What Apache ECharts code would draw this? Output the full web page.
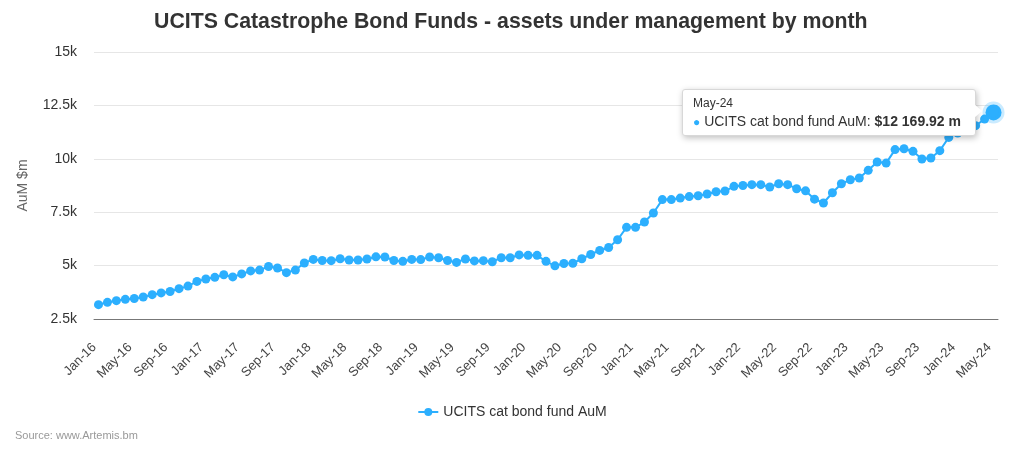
<!DOCTYPE html>
<html>
<head>
<meta charset="utf-8">
<script src="https://cdn.jsdelivr.net/npm/echarts@6/dist/echarts.min.js"></script>
<style>
html,body{margin:0;padding:0;background:#fff;}
#chart{width:1024px;height:452px;}
</style>
</head>
<body>
<div id="chart"></div>
<script>
const monthNames = ['Jan','Feb','Mar','Apr','May','Jun','Jul','Aug','Sep','Oct','Nov','Dec'];
const yearLabels = ['16','17','18','19','20','21','22','23','24'];
const categories = [];
yearLabels.forEach(y => monthNames.forEach(m => categories.push(m + '-' + y)));
categories.length = 101; // Jan-16 .. May-24

const seriesName = 'UCITS cat bond fund AuM';
const aumValues = [
  3170,3280,3360,3420,3460,3530,3640,3720,3790,3920,4040,4260,
  4370,4450,4570,4470,4610,4750,4790,4960,4890,4670,4790,5120,
  5290,5240,5230,5320,5260,5260,5310,5410,5400,5240,5200,5290,
  5280,5400,5370,5240,5150,5310,5220,5230,5180,5370,5370,5500,
  5480,5480,5200,4990,5100,5110,5320,5520,5710,5850,6210,6790,
  6790,7040,7460,8090,8090,8160,8230,8270,8350,8460,8490,8710,
  8750,8790,8790,8680,8830,8790,8600,8500,8110,7930,8410,8830,
  9020,9100,9460,9850,9800,10430,10470,10350,9990,10040,10380,11000,
  11210,11350,11550,11860,12169.92
];
const yTicks = [2500, 5000, 7500, 10000, 12500, 15000];

const FONT = '"Liberation Sans", Arial, Helvetica, sans-serif';
const COLOR = '#2caffe';
const lastIdx = aumValues.length - 1;

const seriesData = aumValues.map((v, i) => i === lastIdx
  ? { value: v, symbolSize: 16, itemStyle: { color: COLOR, borderColor: 'rgba(44,175,254,0.25)', borderWidth: 6 } }
  : v);

function fmtMoney(v) {
  const parts = v.toFixed(2).split('.');
  return '$' + parts[0].replace(/\B(?=(\d{3})+(?!\d))/g, ' ') + '.' + parts[1] + ' m';
}

const chart = echarts.init(document.getElementById('chart'));
chart.setOption({
  animation: false,
  textStyle: { fontFamily: FONT },
  title: {
    text: 'UCITS Catastrophe Bond Funds - assets under management by month',
    left: 149, top: 7,
    textStyle: { fontSize: 21.3, fontWeight: 'bold', color: '#333', fontFamily: FONT }
  },
  grid: { left: 94, right: 26, top: 52, bottom: 133, containLabel: false },
  legend: {
    bottom: 28, left: 'center',
    itemWidth: 20, itemHeight: 10, itemGap: 8,
    textStyle: { fontSize: 14, color: '#333', fontFamily: FONT },
    data: [seriesName]
  },
  tooltip: {
    trigger: 'item',
    alwaysShowContent: true,
    transitionDuration: 0,
    showDelay: 0,
    backgroundColor: '#ffffff',
    borderColor: '#d8d8d8',
    borderWidth: 1,
    padding: [4, 10, 4, 10],
    extraCssText: 'box-shadow:1px 2px 6px rgba(0,0,0,0.25);border-radius:3px;overflow:visible;',
    position: function () { return [682, 89]; },
    formatter: function (p) {
      return '<div style="position:relative;width:272px;font-family:' + FONT.replace(/"/g, "'") + ';color:#333;line-height:18px;">' +
        '<div style="font-size:12px;">' + p.name + '</div>' +
        '<div style="font-size:14px;white-space:nowrap;"><span style="color:' + COLOR + ';font-size:12px;">\u25CF</span> ' +
        p.seriesName + ': <b>' + fmtMoney(p.value) + '</b></div>' +
        '<div style="position:absolute;right:-17px;top:10px;width:0;height:0;border-top:7px solid transparent;border-bottom:7px solid transparent;border-left:8px solid #fff;"></div>' +
        '</div>';
    }
  },
  xAxis: {
    type: 'category',
    data: categories,
    boundaryGap: true,
    axisLine: { lineStyle: { color: '#777', width: 1 } },
    axisTick: { show: false },
    axisLabel: {
      interval: 3, rotate: 45, margin: 22, padding: [0, 6, 0, 0],
      fontSize: 13, color: '#444', fontFamily: FONT
    },
    splitLine: { show: false }
  },
  yAxis: {
    type: 'value',
    min: yTicks[0], max: yTicks[yTicks.length - 1], interval: 2500,
    name: 'AuM $m', nameLocation: 'middle', nameGap: 64, nameRotate: 90,
    nameTextStyle: { fontSize: 14, color: '#666', fontFamily: FONT },
    axisLine: { show: false },
    axisTick: { show: false },
    axisLabel: {
      fontSize: 14, color: '#333', margin: 17, fontFamily: FONT,
      formatter: v => (v / 1000) + 'k'
    },
    splitLine: { lineStyle: { color: '#e6e6e6', width: 1 } }
  },
  graphic: [{
    type: 'text', left: 15, top: 430,
    style: { text: 'Source: www.Artemis.bm', fill: '#999', fontSize: 11, fontFamily: FONT }
  }],
  series: [{
    name: seriesName,
    type: 'line',
    data: seriesData,
    symbol: 'circle',
    symbolSize: 9,
    showAllSymbol: true,
    lineStyle: { color: COLOR, width: 2 },
    itemStyle: { color: COLOR },
    emphasis: { disabled: true }
  }]
});
chart.dispatchAction({ type: 'showTip', seriesIndex: 0, dataIndex: lastIdx });
</script>
</body>
</html>
